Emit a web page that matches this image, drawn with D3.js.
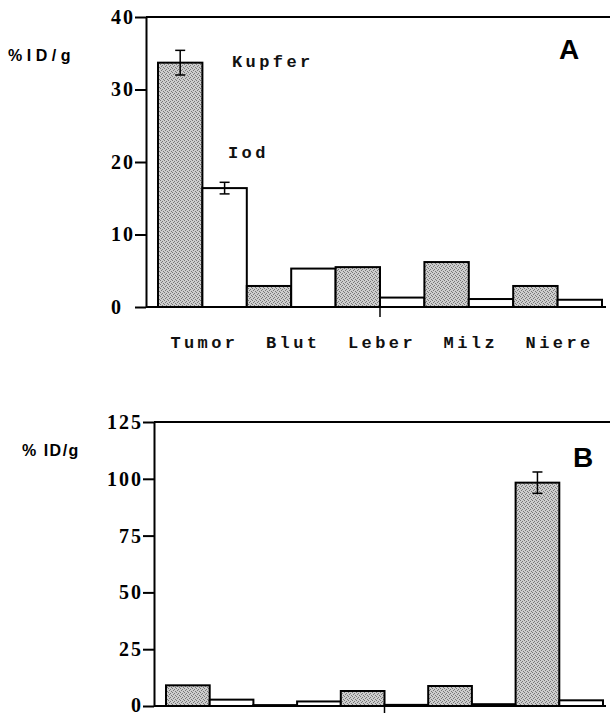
<!DOCTYPE html>
<html>
<head>
<meta charset="utf-8">
<style>
  body { margin: 0; background: #fff; }
  .yaxis text { font-family: "Liberation Serif", serif; font-weight: bold; font-size: 20px; letter-spacing: 2px; fill: #000; }
  .mono { font-family: "Liberation Mono", monospace; font-weight: bold; font-size: 17px; letter-spacing: 3.4px; fill: #111; }
  .ylab { font-family: "Liberation Sans", sans-serif; font-weight: bold; font-size: 16px; fill: #000; }
  .panel { font-family: "Liberation Sans", sans-serif; font-weight: bold; font-size: 28px; fill: #000; }
</style>
</head>
<body>
<script src="https://cdn.jsdelivr.net/npm/d3@7/dist/d3.min.js"></script>
<script>
  var organs = ["Tumor", "Blut", "Leber", "Milz", "Niere"];
  var series = ["Kupfer", "Iod"];

  // Teil A
  var kupferA = [33.7, 2.9, 5.5, 6.2, 2.9];
  var iodA = [16.4, 5.3, 1.3, 1.1, 1.0];
  var kupferErrA = [1.7, 0, 0, 0, 0];
  var iodErrA = [0.8, 0, 0, 0, 0];
  var ticksA = [0, 10, 20, 30, 40];

  // Teil B
  var kupferB = [9.1, 0.4, 6.6, 8.8, 98.3];
  var iodB = [2.8, 2.0, 0.5, 0.8, 2.5];
  var kupferErrB = [0, 0, 0, 0, 4.7];
  var iodErrB = [0, 0, 0, 0, 0];
  var ticksB = [0, 25, 50, 75, 100, 125];

  var W = 610, H = 713;
  var svg = d3.select("body").append("svg")
    .attr("width", W)
    .attr("height", H);

  // Punktraster fuer die grauen Balken
  var pat = svg.append("defs").append("pattern")
    .attr("id", "stipple")
    .attr("width", 4).attr("height", 4)
    .attr("patternUnits", "userSpaceOnUse");
  pat.append("rect").attr("width", 4).attr("height", 4).attr("fill", "#cdcdcd");
  [[0, 0], [2, 1], [1, 2], [3, 3]].forEach(function(p) {
    pat.append("rect").attr("x", p[0]).attr("y", p[1])
      .attr("width", 1).attr("height", 1).attr("fill", "#777");
  });

  function panel(c) {
    var g = svg.append("g");
    var x = d3.scaleBand().domain(organs).range([c.x0, c.x1]).padding(0);
    var sub = d3.scaleBand().domain(series).range([0, x.bandwidth()]);
    var y = d3.scaleLinear().domain([0, c.max]).range([c.bottom, c.top]);

    var rows = [];
    organs.forEach(function(o, i) {
      rows.push({ organ: o, s: "Kupfer", v: c.kupfer[i], e: c.kupferErr[i] });
      rows.push({ organ: o, s: "Iod", v: c.iod[i], e: c.iodErr[i] });
    });

    g.selectAll("rect.bar")
      .data(rows)
      .enter()
      .append("rect")
      .attr("class", "bar")
      .attr("x", function(d) { return x(d.organ) + sub(d.s); })
      .attr("y", function(d) { return y(d.v); })
      .attr("width", sub.bandwidth())
      .attr("height", function(d) { return y(0) - y(d.v); })
      .attr("fill", function(d) { return d.s == "Kupfer" ? "url(#stipple)" : "#fff"; })
      .attr("stroke", "#000")
      .attr("stroke-width", 2);

    // Fehlerbalken
    var err = g.selectAll("g.err")
      .data(rows.filter(function(d) { return d.e > 0; }))
      .enter()
      .append("g")
      .attr("stroke", "#000")
      .attr("stroke-width", 1.5);
    var cx = function(d) { return x(d.organ) + sub(d.s) + sub.bandwidth() / 2; };
    err.append("line")
      .attr("x1", cx).attr("x2", cx)
      .attr("y1", function(d) { return y(d.v + d.e); })
      .attr("y2", function(d) { return y(d.v - d.e); });
    [1, -1].forEach(function(k) {
      err.append("line")
        .attr("x1", function(d) { return cx(d) - 5; })
        .attr("x2", function(d) { return cx(d) + 5; })
        .attr("y1", function(d) { return y(d.v + k * d.e); })
        .attr("y2", function(d) { return y(d.v + k * d.e); });
    });

    // Rahmen oben und Grundlinie
    g.append("line")
      .attr("x1", c.ax).attr("x2", W)
      .attr("y1", y(c.max)).attr("y2", y(c.max))
      .attr("stroke", "#000").attr("stroke-width", 2);
    g.append("line")
      .attr("x1", c.ax).attr("x2", 606)
      .attr("y1", y(0)).attr("y2", y(0))
      .attr("stroke", "#000").attr("stroke-width", 2);

    // y-Achse
    var ya = g.append("g")
      .attr("class", "yaxis")
      .attr("transform", "translate(" + c.ax + ",0)")
      .call(d3.axisLeft(y).tickValues(c.ticks).tickSize(11).tickSizeOuter(0).tickPadding(0));
    ya.select(".domain").attr("stroke-width", 2);
    ya.selectAll(".tick line").attr("stroke-width", 2);
    ya.selectAll(".tick text")
      .attr("dx", function(d) { return d == 0 ? c.zeroDx : 0; })
      .attr("dy", function(d) { return d == 0 ? c.zeroDy : "0.32em"; });

    // einzelner Strich unter der x-Achse
    var xa = g.append("g")
      .attr("transform", "translate(0," + y(0) + ")")
      .call(d3.axisBottom(x).tickValues(["Leber"]).tickSize(10).tickSizeOuter(0).tickFormat(""));
    xa.select(".domain").remove();
    xa.selectAll(".tick line").attr("stroke-width", 1.5);

    if (c.labels) {
      g.selectAll("text.cat")
        .data(organs)
        .enter()
        .append("text")
        .attr("class", "mono")
        .attr("text-anchor", "middle")
        .attr("x", function(d) { return x(d) + x.bandwidth() / 2 + 2; })
        .attr("y", y(0) + 41)
        .text(function(d) { return d; });
    }

    g.append("text")
      .attr("class", "ylab")
      .attr("x", c.lab[0]).attr("y", c.lab[1])
      .attr("letter-spacing", c.lab[2])
      .text(c.ylabel);

    g.append("text")
      .attr("class", "panel")
      .attr("x", c.letter[0]).attr("y", c.letter[1])
      .attr("font-size", c.letter[2])
      .text(c.name);

    return { x: x, y: y, g: g };
  }

  var A = panel({
    ax: 146, x0: 158, x1: 602, top: 17, bottom: 307, max: 40,
    ticks: ticksA, kupfer: kupferA, iod: iodA, kupferErr: kupferErrA, iodErr: iodErrA,
    labels: true, zeroDx: -12, zeroDy: "0.32em", ylabel: "%ID/g", lab: [8, 61, "4.5px"],
    name: "A", letter: [559, 59, "29px"]
  });

  var B = panel({
    ax: 154, x0: 166, x1: 603, top: 422, bottom: 706, max: 125,
    ticks: ticksB, kupfer: kupferB, iod: iodB, kupferErr: kupferErrB, iodErr: iodErrB,
    labels: false, zeroDx: 0, zeroDy: "0.25em", ylabel: "% ID/g", lab: [22, 456, "1.5px"],
    name: "B", letter: [573, 467, "27px"]
  });

  // Legendenbeschriftung direkt an den Tumor-Balken
  A.g.append("text").attr("class", "mono")
    .attr("x", 232).attr("y", 67).text("Kupfer");
  A.g.append("text").attr("class", "mono")
    .attr("x", 228).attr("y", 158).text("Iod");
</script>
</body>
</html>
